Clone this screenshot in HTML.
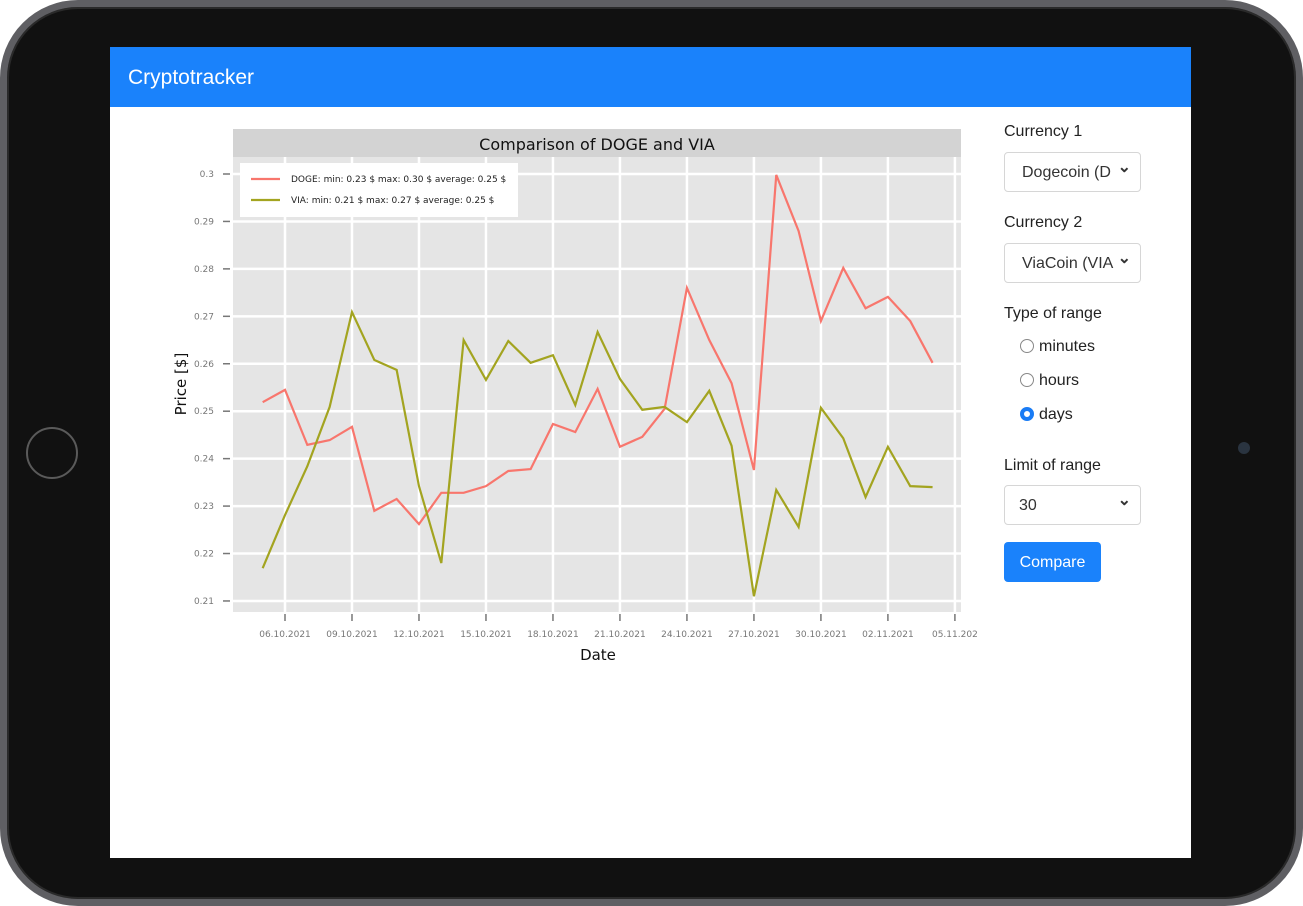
<!DOCTYPE html>
<html><head><meta charset="utf-8"><style>
*{box-sizing:border-box;margin:0;padding:0}
body{width:1303px;height:906px;background:#fff;position:relative;overflow:hidden;font-family:"Liberation Sans",sans-serif}
#device{position:absolute;left:0;top:0;width:1303px;height:906px;border-radius:78px;background:#111;border:7px solid #5f5f63;box-shadow:inset 0 0 0 2px #2a2a2a}
#screen{position:absolute;left:110px;top:47px;width:1081px;height:811px;background:#fff}
#nav{position:absolute;left:0;top:0;width:100%;height:60px;background:#1a82fb;color:#fff;font-size:21px;padding:19px 0 0 18px}
.lbl{position:absolute;left:894px;font-size:16px;color:#222}
.sel{position:absolute;left:894px;width:137px;height:40px;border:1px solid #d6d6d6;border-radius:4px;font-size:16px;color:#333;padding:11px 0 0 17px;background:#fff}
.sel:after{content:"⌄";position:absolute;right:9px;top:4px;font-size:16px;font-weight:bold}
.radio{position:absolute;left:910px;font-size:16px;color:#222}
.radio i{display:inline-block;width:14px;height:14px;border:1px solid #888;border-radius:50%;vertical-align:-2px;margin-right:5px}
.radio i.on{border:4px solid #1a7cf5}
#btn{position:absolute;left:894px;top:495px;width:97px;height:40px;background:#1a82fb;color:#fff;border-radius:4px;font-size:16px;text-align:center;line-height:42px}
</style></head><body>
<div id="device"></div>
<div style="position:absolute;left:26px;top:427px;width:52px;height:52px;border-radius:50%;border:2px solid #5a5a5a"></div>
<div style="position:absolute;left:1238px;top:442px;width:12px;height:12px;border-radius:50%;background:#2a3440"></div>
<div id="screen">
<div id="nav"><span>Cryptotracker</span></div>
<svg id="chart" width="880" height="620" style="position:absolute;left:0;top:60px" font-family="DejaVu Sans, sans-serif"></svg>
<div class="lbl" style="top:76px">Currency 1</div>
<div class="sel" style="top:105px">Dogecoin (D</div>
<div class="lbl" style="top:167px">Currency 2</div>
<div class="sel" style="top:196px">ViaCoin (VIA</div>
<div class="lbl" style="top:258px">Type of range</div>
<div class="radio" style="top:291px"><i></i>minutes</div>
<div class="radio" style="top:325px"><i></i>hours</div>
<div class="radio" style="top:359px"><i class="on"></i>days</div>
<div class="lbl" style="top:410px">Limit of range</div>
<div class="sel" style="top:438px;padding-left:14px"><span>30</span></div>
<div id="btn">Compare</div>
</div>
<script>
const dayLabels=["06.10.2021","09.10.2021","12.10.2021","15.10.2021","18.10.2021","21.10.2021","24.10.2021","27.10.2021","30.10.2021","02.11.2021","05.11.202"];
const yTicks=[0.21,0.22,0.23,0.24,0.25,0.26,0.27,0.28,0.29,0.3];
const doge=[0.2519,0.2545,0.2429,0.2439,0.2467,0.2290,0.2315,0.2262,0.2328,0.2328,0.2342,0.2374,0.2378,0.2473,0.2456,0.2547,0.2425,0.2446,0.2505,0.2760,0.2650,0.2559,0.2376,0.2998,0.2880,0.2690,0.2802,0.2717,0.2741,0.2690,0.2602];
const via=[0.2169,0.2281,0.2384,0.2509,0.2709,0.2608,0.2587,0.2342,0.2180,0.2650,0.2566,0.2648,0.2602,0.2618,0.2513,0.2667,0.2568,0.2503,0.2509,0.2477,0.2543,0.2427,0.2110,0.2334,0.2256,0.2507,0.2443,0.2319,0.2425,0.2342,0.2340];
const NS="http://www.w3.org/2000/svg",svg=document.getElementById('chart');
const X=d=>285-110+(d-1)*22.33;
const Y=v=>174-107+(0.3-v)*4744;
function mk(t,a,p){const e=document.createElementNS(NS,t);for(const k in a)e.setAttribute(k,a[k]);(p||svg).appendChild(e);return e;}
let e;
e=mk('rect',{x:123,y:22,width:728,height:28,fill:'#d3d3d3'});


e=mk('text',{x:487,y:43,'text-anchor':'middle','font-size':16,fill:'#111'});e.textContent='Comparison of DOGE and VIA';


e=mk('rect',{x:123,y:50,width:728,height:455,fill:'#e5e5e5'});


yTicks.forEach(v=>{const y=Y(v);
 e=mk('line',{x1:123,x2:851,y1:y,y2:y,stroke:'#fff','stroke-width':2.5});
 
 
 mk('line',{x1:113,x2:120,y1:y,y2:y,stroke:'#777','stroke-width':1.5});
 e=mk('text',{x:104,y:y+3,'text-anchor':'end','font-size':9,fill:'#777'});e.textContent=String(v);
 
 
});
dayLabels.forEach((l,i)=>{const x=X(1+i*3);
 e=mk('line',{x1:x,x2:x,y1:50,y2:505,stroke:'#fff','stroke-width':2.5});
 
 
 mk('line',{x1:x,x2:x,y1:507,y2:514,stroke:'#777','stroke-width':1.5});
 e=mk('text',{x:x,y:530,'text-anchor':'middle','font-size':9,fill:'#777'});e.textContent=l;
 
 
});
function line(d,c,n){const pts=d.map((v,i)=>X(i)+','+Y(v)).join(' ');
 e=mk('polyline',{points:pts,fill:'none',stroke:c,'stroke-width':2.2});
 
 }
line(doge,'#f8766d','doge-line');
line(via,'#a3a420','via-line');
e=mk('rect',{x:130,y:56,width:278,height:54,fill:'#fff'});


[['#f8766d','DOGE: min: 0.23 $ max: 0.30 $ average: 0.25 $',75],['#a3a420','VIA: min: 0.21 $ max: 0.27 $ average: 0.25 $',96]].forEach(r=>{
 mk('line',{x1:141,x2:170,y1:r[2]-3,y2:r[2]-3,stroke:r[0],'stroke-width':2.2});
 e=mk('text',{x:181,y:r[2],'font-size':9,fill:'#222'});e.textContent=r[1];
 
 
});
e=mk('text',{x:488,y:553,'text-anchor':'middle','font-size':15,fill:'#111'});e.textContent='Date';


e=mk('text',{x:76,y:277,'text-anchor':'middle','font-size':15,fill:'#111',transform:'rotate(-90 76 277)'});e.textContent='Price [$]';


</script>
</body></html>
